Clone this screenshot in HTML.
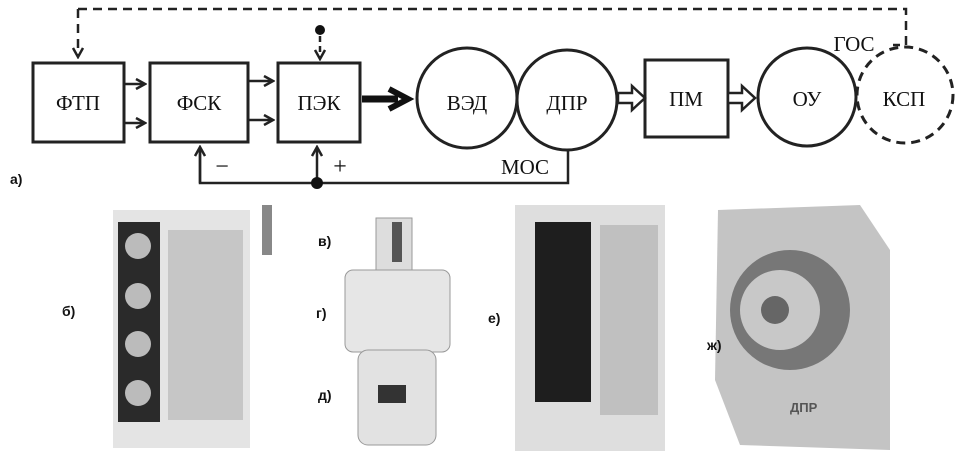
<!DOCTYPE html>
<html><head><meta charset="utf-8"><style>
body{margin:0;background:#fff}
svg{display:block}
.t{font-family:"Liberation Serif",serif;font-size:21px;fill:#111}
.l{font-family:"Liberation Sans",sans-serif;font-size:14px;font-weight:bold;fill:#111}
</style></head><body>
<svg width="963" height="464" viewBox="0 0 963 464" xmlns="http://www.w3.org/2000/svg">
<defs>
<marker id="a" markerWidth="12" markerHeight="12" refX="10" refY="6" orient="auto" markerUnits="userSpaceOnUse">
<path d="M1,1 L10,6 L1,11" fill="none" stroke="#222" stroke-width="2.5"/></marker>
</defs>
<g fill="none" stroke="#222" stroke-width="3">
<rect x="33" y="63" width="91" height="79"/>
<rect x="150" y="63" width="98" height="79"/>
<rect x="278" y="63" width="82" height="79"/>
<circle cx="467" cy="98" r="50"/>
<circle cx="567" cy="100" r="50"/>
<rect x="645" y="60" width="83" height="77"/>
<circle cx="807" cy="97" r="49"/>
<circle cx="905" cy="95" r="48" stroke-dasharray="9,6"/>
</g>
<g stroke="#222" stroke-width="2.5" fill="none">
<line x1="124" y1="84" x2="145" y2="84" marker-end="url(#a)"/>
<line x1="124" y1="123" x2="145" y2="123" marker-end="url(#a)"/>
<line x1="248" y1="81" x2="273" y2="81" marker-end="url(#a)"/>
<line x1="248" y1="120" x2="273" y2="120" marker-end="url(#a)"/>
<path d="M78,9 H906 V45 H893" stroke-dasharray="9,6"/>
<line x1="78" y1="9" x2="78" y2="57" stroke-dasharray="9,6" marker-end="url(#a)"/>
<line x1="320" y1="36" x2="320" y2="59" stroke-dasharray="6,4" marker-end="url(#a)"/>
<path d="M568,150 V183 H200 V148"/>
<line x1="200" y1="183" x2="200" y2="147" marker-end="url(#a)"/>
<line x1="317" y1="183" x2="317" y2="147" marker-end="url(#a)"/>
</g>
<circle cx="320" cy="30" r="5" fill="#111"/>
<circle cx="317" cy="183" r="6" fill="#111"/>
<path d="M362,99 H398" stroke="#111" stroke-width="7"/>
<path d="M389,89 L408,99 L389,109" fill="none" stroke="#111" stroke-width="6"/>
<path d="M618,93 H632 V86 L645,98 L632,110 V103 H618 Z" fill="#fff" stroke="#222" stroke-width="2.5"/>
<path d="M728,93 H742 V86 L755,98 L742,110 V103 H728 Z" fill="#fff" stroke="#222" stroke-width="2.5"/>
<text class="t" x="78" y="110" text-anchor="middle">ФТП</text>
<text class="t" x="199" y="110" text-anchor="middle">ФСК</text>
<text class="t" x="319" y="110" text-anchor="middle">ПЭК</text>
<text class="t" x="467" y="110" text-anchor="middle">ВЭД</text>
<text class="t" x="567" y="110" text-anchor="middle">ДПР</text>
<text class="t" x="686" y="106" text-anchor="middle">ПМ</text>
<text class="t" x="807" y="106" text-anchor="middle">ОУ</text>
<text class="t" x="904" y="106" text-anchor="middle">КСП</text>
<text class="t" x="854" y="51" text-anchor="middle">ГОС</text>
<text class="t" x="525" y="174" text-anchor="middle">МОС</text>
<text class="t" x="222" y="174" text-anchor="middle" style="font-size:24px">−</text>
<text class="t" x="340" y="174" text-anchor="middle" style="font-size:24px">+</text>
<text class="l" x="10" y="184">а)</text>
<!-- photos -->
<rect x="113" y="210" width="137" height="238" fill="#e4e4e4"/>
<rect x="118" y="222" width="42" height="200" fill="#2a2a2a"/>
<circle cx="138" cy="246" r="13" fill="#bbb"/><circle cx="138" cy="296" r="13" fill="#bbb"/>
<circle cx="138" cy="344" r="13" fill="#bbb"/><circle cx="138" cy="393" r="13" fill="#bbb"/>
<rect x="168" y="230" width="75" height="190" fill="#c6c6c6"/>
<rect x="262" y="205" width="10" height="50" fill="#888"/>
<rect x="376" y="218" width="36" height="58" fill="#ddd" stroke="#999"/>
<rect x="392" y="222" width="10" height="40" fill="#555"/>
<rect x="345" y="270" width="105" height="82" rx="8" fill="#e6e6e6" stroke="#999"/>
<rect x="358" y="350" width="78" height="95" rx="10" fill="#e2e2e2" stroke="#999"/>
<rect x="378" y="385" width="28" height="18" fill="#333"/>
<rect x="515" y="205" width="150" height="246" fill="#dedede"/>
<rect x="535" y="222" width="56" height="180" fill="#1e1e1e"/>
<rect x="600" y="225" width="58" height="190" fill="#c0c0c0"/>
<path d="M718,210 L860,205 L890,250 L890,450 L740,445 L715,380 Z" fill="#c4c4c4"/>
<circle cx="790" cy="310" r="60" fill="#777"/>
<circle cx="780" cy="310" r="40" fill="#c8c8c8"/>
<circle cx="775" cy="310" r="14" fill="#666"/>
<text class="l" x="790" y="412" style="fill:#555;font-size:13px">ДПР</text>
<text class="l" x="62" y="316">б)</text>
<text class="l" x="318" y="246">в)</text>
<text class="l" x="316" y="318">г)</text>
<text class="l" x="318" y="400">д)</text>
<text class="l" x="488" y="323">е)</text>
<text class="l" x="707" y="350">ж)</text>
</svg>
</body></html>
